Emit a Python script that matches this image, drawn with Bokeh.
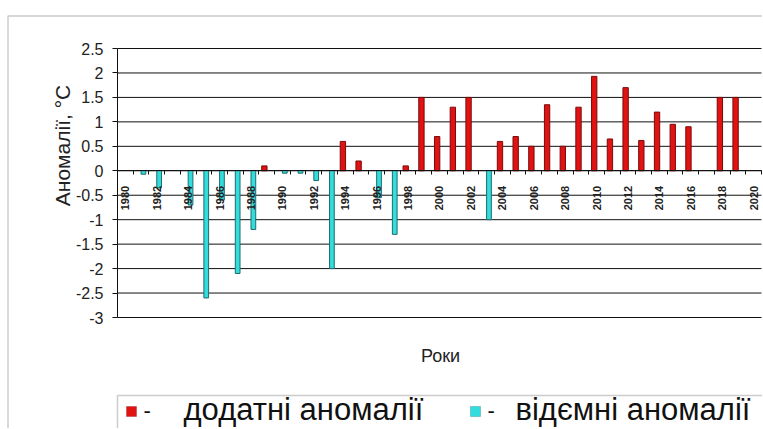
import math
from bokeh.plotting import figure
from bokeh.models import (Range1d, FixedTicker, ColumnDataSource, BoxAnnotation, Label)
from bokeh.transform import dodge
from bokeh.embed import file_html
from bokeh.resources import INLINE

# ---------------- data ----------------
years = list(range(1980, 2021))
anomalies = [0.0, -0.07, -0.35, 0.0, -0.7, -2.6, -0.6, -2.1, -1.2, 0.1,
             -0.05, -0.05, -0.2, -2.0, 0.6, 0.2, -0.55, -1.3, 0.1, 1.5,
             0.7, 1.3, 1.5, -1.0, 0.6, 0.7, 0.5, 1.35, 0.5, 1.3,
             1.93, 0.65, 1.7, 0.62, 1.2, 0.95, 0.9, 0.0, 1.5, 1.5, 0.0]
year_ticks = list(range(1980, 2021, 2))
year_tick_labels = [str(y) for y in year_ticks]
y_ticks = [-3, -2.5, -2, -1.5, -1, -0.5, 0, 0.5, 1, 1.5, 2, 2.5]
y_tick_labels = ["-3", "-2.5", "-2", "-1.5", "-1", "-0.5", "0", "0.5", "1", "1.5", "2", "2.5"]
y_title = "Аномалії, °С"
x_title = "Роки"
legend_pos = "додатні аномалії"
legend_neg = "відємні аномалії"

pos_years = [y for y, v in zip(years, anomalies) if v > 0]
pos_vals = [v for v in anomalies if v > 0]
neg_years = [y for y, v in zip(years, anomalies) if v < 0]
neg_vals = [v for v in anomalies if v < 0]

# ---------------- layout (frame covers whole canvas) ----------------
W, H = 762, 428
CAT_MIN, CAT_MAX = 1979.5, 2020.5          # category band of the chart
VAL_MIN, VAL_MAX = -3, 2.5                 # value axis of the chart
PLOT_LEFT, PLOT_RIGHT = 117, 761           # pixel edges of the plot area
PLOT_TOP, PLOT_BOTTOM = 48, 317
PPX = (PLOT_RIGHT - PLOT_LEFT) / (CAT_MAX - CAT_MIN)
PPY = (PLOT_BOTTOM - PLOT_TOP) / (VAL_MAX - VAL_MIN)
X0 = CAT_MIN - PLOT_LEFT / PPX
Y0 = VAL_MAX + PLOT_TOP / PPY


def dx(px):
    return X0 + px / PPX


def dy(py):
    return Y0 - py / PPY


p = figure(width=W, height=H, x_range=Range1d(dx(0), dx(W)), y_range=Range1d(dy(H), dy(0)),
           output_backend="svg", toolbar_location=None, min_border=0)
p.outline_line_color = None
p.background_fill_color = "white"
p.border_fill_color = "white"
p.xgrid.visible = False
p.ygrid.visible = False

# horizontal gridlines across the plot area only
p.segment(x0=CAT_MIN, x1=CAT_MAX, y0=y_ticks, y1=y_ticks, line_color="#111111", line_width=1)

# value axis on the left edge of the plot area
ya = p.yaxis[0]
ya.fixed_location = CAT_MIN
ya.bounds = (VAL_MIN, VAL_MAX)
ya.ticker = FixedTicker(ticks=y_ticks)
ya.major_label_overrides = {t: l for t, l in zip(y_ticks, y_tick_labels)}
ya.axis_line_color = "#111111"
ya.major_tick_line_color = "#111111"
ya.major_tick_out = 5
ya.major_tick_in = 0
ya.minor_tick_line_color = None
ya.major_label_text_font = "Liberation Sans"
ya.major_label_text_font_size = "16px"
ya.major_label_text_color = "#222222"
ya.major_label_standoff = 9

# category axis on the zero line
xa = p.xaxis[0]
xa.fixed_location = 0
xa.bounds = (CAT_MIN, CAT_MAX)
xa.ticker = FixedTicker(ticks=year_ticks, minor_ticks=[CAT_MIN + k for k in range(42)])
xa.major_label_overrides = {t: l for t, l in zip(year_ticks, year_tick_labels)}
xa.major_label_orientation = math.pi / 2
xa.axis_line_color = "#111111"
xa.major_tick_line_color = None
xa.major_tick_out = 0
xa.major_tick_in = 0
xa.minor_tick_line_color = "#111111"
xa.minor_tick_out = 4
xa.minor_tick_in = 0
xa.major_label_text_font = "Liberation Sans"
xa.major_label_text_font_style = "bold"
xa.major_label_text_font_size = "11px"
xa.major_label_text_color = "#222222"
xa.major_label_standoff = 11

# bars
src_pos = ColumnDataSource(dict(year=pos_years, val=pos_vals))
src_neg = ColumnDataSource(dict(year=neg_years, val=neg_vals))
p.vbar(x=dodge("year", -0.15, range=p.x_range), top="val", bottom=0, width=0.34,
       source=src_pos, fill_color="#e01212", line_color="#7a0a0a", line_width=1)
p.vbar(x=dodge("year", 0.15, range=p.x_range), top="val", bottom=0, width=0.30,
       source=src_neg, fill_color="#33dddd", line_color="#1f6b6b", line_width=1)

# outer chart frame (right/bottom edges are cut off in the reference)
p.add_layout(BoxAnnotation(left=dx(7.5), right=dx(W + 50), top=dy(15.5), bottom=dy(H + 50),
                           fill_color=None, line_color="#555555", line_width=1.5))

# axis titles
p.add_layout(Label(x=dx(62), y=dy(145), text=y_title, angle=math.pi / 2,
                   text_align="center", text_baseline="middle",
                   text_font="Liberation Sans", text_font_size="21px", text_color="#222222"))
p.add_layout(Label(x=dx(440), y=dy(355), text=x_title,
                   text_align="center", text_baseline="middle",
                   text_font="Liberation Sans", text_font_size="18px", text_color="#222222"))

# legend
p.add_layout(BoxAnnotation(left=dx(117), right=dx(W + 50), top=dy(395), bottom=dy(H + 50),
                           fill_color=None, line_color="#555555", line_width=1.5))
p.add_layout(BoxAnnotation(left=dx(126), right=dx(136), top=dy(406), bottom=dy(416),
                           fill_color="#e01212", fill_alpha=1, line_color="#7a0a0a", line_width=1))
p.add_layout(BoxAnnotation(left=dx(470), right=dx(480), top=dy(406), bottom=dy(416),
                           fill_color="#33dddd", fill_alpha=1, line_color="#1f6b6b", line_width=1))
for xpx, ypx, txt, size in [(143, 410, "-", "22px"), (183, 409, legend_pos, "31px"),
                            (487, 410, "-", "22px"), (515, 409, legend_neg, "31px")]:
    p.add_layout(Label(x=dx(xpx), y=dy(ypx), text=txt, text_align="left",
                       text_baseline="middle", text_font="Liberation Sans",
                       text_font_size=size, text_color="#111111"))

open("out.html", "w").write(file_html(p, INLINE))
